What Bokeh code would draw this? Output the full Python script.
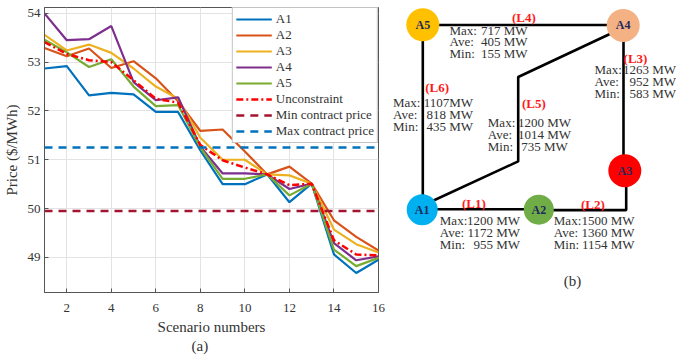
from bokeh.plotting import figure
from bokeh.models import Range1d, FixedTicker, Title
from bokeh.layouts import row
from bokeh.core.properties import value
from bokeh.embed import file_html
from bokeh.resources import INLINE

# ---------------- data: panel (a) ----------------
scenarios = list(range(1, 17))
a1 = [52.87, 52.92, 52.32, 52.37, 52.34, 51.98, 51.98, 51.19, 50.50, 50.50, 50.70, 50.13, 50.51, 49.06, 48.68, 48.95]
a2 = [53.29, 53.12, 53.28, 52.88, 53.02, 52.67, 52.20, 51.59, 51.62, 51.17, 50.70, 50.86, 50.51, 49.76, 49.42, 49.14]
a3 = [53.56, 53.24, 53.36, 53.19, 52.87, 52.50, 52.25, 51.45, 51.00, 51.00, 50.70, 50.68, 50.51, 49.57, 49.27, 49.10]
a4 = [54.00, 53.45, 53.47, 53.74, 52.59, 52.22, 52.28, 51.27, 50.72, 50.72, 50.70, 50.40, 50.51, 49.29, 48.94, 49.02]
a5 = [53.46, 53.20, 52.90, 53.06, 52.50, 52.10, 52.12, 51.25, 50.61, 50.61, 50.70, 50.27, 50.51, 49.16, 48.82, 48.99]
unconstraint = [53.41, 53.17, 53.04, 53.00, 52.63, 52.25, 52.17, 51.30, 50.99, 50.84, 50.70, 50.48, 50.51, 49.35, 49.06, 49.04]
min_contract = 49.95
max_contract = 51.25
series_names = ["A1", "A2", "A3", "A4", "A5"]
x_ticks = [2, 4, 6, 8, 10, 12, 14, 16]
y_ticks = [49, 50, 51, 52, 53, 54]

# ---------------- data: panel (b) ----------------
node_names = ["A1", "A2", "A3", "A4", "A5"]
link_names = ["(L1)", "(L2)", "(L3)", "(L4)", "(L5)", "(L6)"]
flow_max = ["1200 MW", "1500 MW", "1263 MW", "717 MW", "1200 MW", "1107MW"]
flow_ave = ["1172 MW", "1360 MW", "952 MW", "405 MW", "1014 MW", "818 MW"]
flow_min = ["955 MW", "1154 MW", "583 MW", "155 MW", "735  MW", "435 MW"]
row_names = ["Max:", "Ave:", "Min:"]

SERIF = "Liberation Serif"
TXT = "#333333"

# ================= panel (a) =================
pa = figure(width=390, height=358, x_range=Range1d(1, 16), y_range=Range1d(48.28, 54.12),
            output_backend="svg", toolbar_location=None,
            min_border_left=44, min_border_right=12, min_border_top=7, min_border_bottom=66)
pa.background_fill_color = "white"
pa.border_fill_color = "white"
pa.outline_line_color = "#555555"
pa.outline_line_width = 1

colors = ["#0072BD", "#D95319", "#EDB120", "#7E2F8E", "#77AC30"]
for name, ys, c in zip(series_names, [a1, a2, a3, a4, a5], colors):
    pa.line(scenarios, ys, line_color=c, line_width=2.2, legend_label=name)
pa.line(scenarios, unconstraint, line_color="#FF0000", line_width=2.5,
        line_dash="7 3 2 3", legend_label="Unconstraint")
pa.line([scenarios[0], scenarios[-1]], [min_contract, min_contract], line_color="#A2142F",
        line_width=2.5, line_dash="8 6", legend_label="Min contract price")
pa.line([scenarios[0], scenarios[-1]], [max_contract, max_contract], line_color="#0072BD",
        line_width=2.5, line_dash="8 6", legend_label="Max contract price")

pa.xaxis.ticker = FixedTicker(ticks=x_ticks)
pa.yaxis.ticker = FixedTicker(ticks=y_ticks)
for ax in (pa.xaxis, pa.yaxis):
    ax.axis_line_color = "#555555"
    ax.major_tick_line_color = "#555555"
    ax.major_tick_in = 4
    ax.major_tick_out = 0
    ax.minor_tick_line_color = None
    ax.major_label_text_font = SERIF
    ax.major_label_text_font_size = "13px"
    ax.major_label_text_color = TXT
    ax.axis_label_text_font = SERIF
    ax.axis_label_text_font_size = "15px"
    ax.axis_label_text_font_style = "normal"
    ax.axis_label_text_color = TXT
pa.xaxis.axis_label = "Scenario numbers"
pa.yaxis.axis_label = "Price ($/MWh)"
pa.xaxis.major_label_standoff = 11
pa.xaxis.axis_label_standoff = 4
pa.yaxis.major_label_standoff = 4
pa.yaxis.axis_label_standoff = 5
pa.grid.grid_line_color = "#E3E3E3"

leg = pa.legend[0]
leg.location = "top_right"
leg.margin = 0
leg.padding = 3
leg.spacing = 0
leg.glyph_width = 36
leg.glyph_height = 16
leg.label_height = 16
leg.label_standoff = 4
leg.label_text_font = SERIF
leg.label_text_font_size = "13px"
leg.label_text_color = TXT
leg.border_line_color = "#888888"
leg.border_line_width = 1
leg.background_fill_alpha = 1

pa.add_layout(Title(text="(a)", align="left", offset=147, standoff=0, vertical_align="top",
                    text_font=SERIF, text_font_size="15px", text_font_style="normal",
                    text_color=TXT), "below")

# ================= panel (b) =================
pb = figure(width=286, height=358, x_range=Range1d(390, 676), y_range=Range1d(358, 0),
            output_backend="svg", toolbar_location=None, min_border=0)
pb.axis.visible = False
pb.grid.visible = False
pb.outline_line_color = None
pb.background_fill_color = "white"
pb.border_fill_color = "white"

# layout (screen-like positions)
node_x = [421.7, 538.3, 624.3, 622.7, 422.3]
node_y = [254, 254, 205, 22.5, 21.7]
node_r = [15.5, 15, 16.5, 16.5, 16.5]
node_colors = ["#00B0F0", "#70AD47", "#FF0000", "#F4B183", "#FFC000"]

link_xs = [[421.7, 538.3],
           [538.3, 625.7, 625.7],
           [623.0, 623.0],
           [422.3, 622.7],
           [421.7, 517.7, 517.7, 622.7],
           [422.3, 422.3]]
link_ys = [[253.5, 253.5],
           [254.5, 254.5, 205],
           [205, 22.5],
           [22, 22],
           [249.0, 193.3, 87.3, 25.5],
           [21.7, 254]]
pb.multi_line(link_xs, link_ys, line_color="black", line_width=2.6)

pb.circle(node_x, node_y, radius=node_r, fill_color=node_colors, line_color=None)
pb.text(node_x, node_y, text=node_names, text_font=value(SERIF), text_font_size="12px",
        text_font_style="bold", text_color="#1F2A5C", text_align="center", text_baseline="middle")

lab_x = [473.3, 592.3, 635.0, 523.3, 533.3, 436.7]
lab_y = [246, 247, 64.5, 12, 121, 100.5]
pb.text(lab_x, lab_y, text=link_names, text_font=value(SERIF), text_font_size="13px",
        text_font_style="bold", text_color="#FF1A1A", text_align="center", text_baseline="middle")

blk_lx = [439.3, 553.3, 594.0, 449.0, 487.3, 392.5]
blk_rx = [519.5, 634.0, 675.5, 527.0, 570.5, 472.5]
blk_y0 = [267.7, 267.7, 78.3, 28.3, 145.0, 119.5]
step = 15.0
for i in range(len(link_names)):
    ys = [blk_y0[i] + k * step for k in range(3)]
    pb.text([blk_lx[i]] * 3, ys, text=row_names, text_font=value(SERIF), text_font_size="13px",
            text_color=TXT, text_align="left", text_baseline="middle")
    pb.text([blk_rx[i]] * 3, ys, text=[flow_max[i], flow_ave[i], flow_min[i]],
            text_font=value(SERIF), text_font_size="13px",
            text_color=TXT, text_align="right", text_baseline="middle")

pb.text([572], [344], text=["(b)"], text_font=value(SERIF), text_font_size="15px",
        text_color=TXT, text_align="center", text_baseline="middle")

layout = row(pa, pb)
open("out.html", "w").write(file_html(layout, INLINE))
